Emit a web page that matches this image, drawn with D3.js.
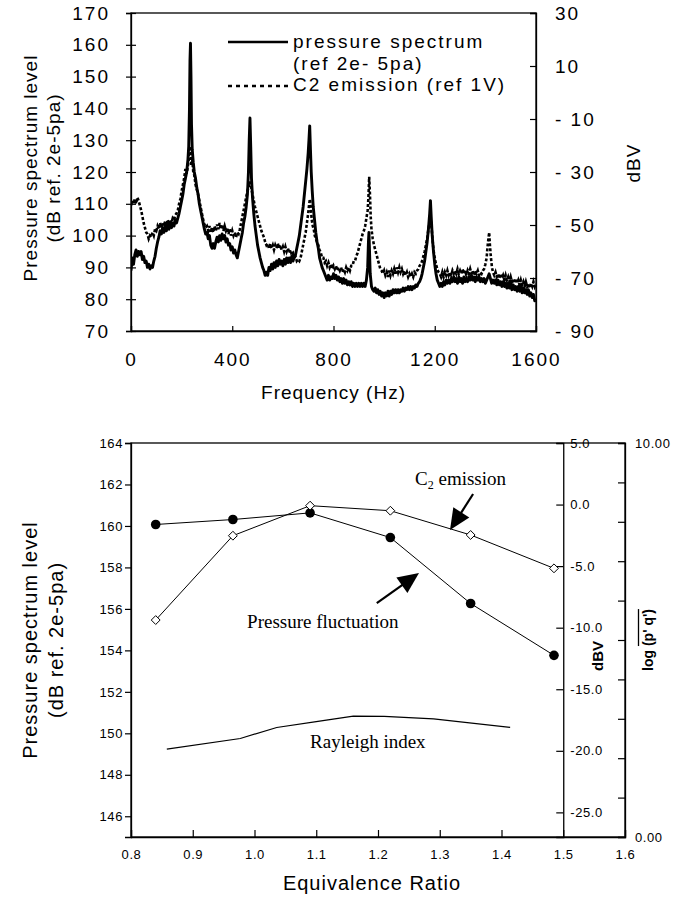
<!DOCTYPE html>
<html><head><meta charset="utf-8">
<script src="https://cdn.jsdelivr.net/npm/d3@7"></script>
<style>
html,body{margin:0;padding:0;background:#fff;}
svg{display:block;}
</style></head><body>
<svg id="c" width="686" height="898"></svg>
<script>
// ---------- Top chart data ----------
// pressure spectrum: [frequency Hz, dB ref 2e-5 Pa]
const pressureSpectrum = [[0,89],[5,93],[10,91],[15,94],[20,95.5],[25,93.5],[30,95],[35,94],[40,95],[45,92.5],[50,93.5],[55,91.5],[60,92],[65,90],[70,91],[75,89.5],[80,90.5],[85,90],[90,92],[95,93.5],[100,96],[105,98],[110,99.5],[115,101.5],[120,100.5],[125,102.5],[130,101],[135,103],[140,101.5],[145,103.5],[150,102],[155,104],[160,102.5],[165,104],[170,103],[175,105],[180,104],[185,105.5],[190,107],[195,109],[200,111],[205,113],[210,116],[215,118],[220,120],[225,124],[228,128],[231,140],[233,155],[235,160.5],[237,150],[239,135],[242,127],[246,123],[250,120],[255,118],[260,115],[265,113],[270,110],[275,108],[280,106],[285,104],[290,102],[295,100.5],[300,101],[305,99],[310,100],[315,97],[320,96],[325,97.5],[330,96],[335,98],[340,99.5],[345,98],[350,100],[355,98.5],[360,100.5],[365,99],[370,100],[375,98],[380,99],[385,97],[390,97.5],[395,95.5],[400,96.5],[405,94.5],[410,95.5],[415,94],[420,93],[425,95],[430,97],[435,99],[440,101],[445,104],[450,106],[455,109],[460,113],[464,120],[467,130],[470,137],[473,128],[476,118],[480,112],[485,107],[490,103],[495,100],[500,97],[505,95],[510,93],[515,91.5],[520,90],[525,89],[530,87.5],[535,88.5],[540,87.5],[545,90],[550,89],[555,91],[560,89.5],[565,91.5],[570,90],[575,92],[580,90.5],[585,92.5],[590,91],[595,92],[600,90.5],[605,92.5],[610,91],[615,93],[620,91.5],[625,93],[630,91.5],[635,93.5],[640,92],[645,93.5],[650,94],[655,96],[660,98],[665,100],[670,103],[675,106],[680,109],[685,113],[690,117],[695,121],[700,126],[703,130],[706,134.5],[709,127],[712,120],[716,114],[720,109],[725,105],[730,101],[735,98],[740,96],[745,93],[750,91.5],[755,90],[760,89],[765,88],[770,87],[775,86],[780,87.5],[785,86],[790,87],[795,86.5],[800,88],[805,86.5],[810,87.5],[815,86],[820,87],[825,85.5],[830,86.5],[835,85],[840,86.5],[845,85],[850,86],[855,84.5],[860,85.5],[865,84.5],[870,85.5],[875,84],[880,85],[885,84],[890,85],[895,84],[900,85],[905,84],[910,85],[915,84],[920,85],[925,84],[930,86],[935,90],[938,98],[940,101],[942,96],[945,88],[950,84],[955,83],[960,82.5],[965,83.5],[970,82],[975,83],[980,81.5],[985,82.5],[990,81],[995,82],[1000,80.5],[1005,82],[1010,81],[1015,82.5],[1020,81],[1025,82.5],[1030,81.5],[1035,83],[1040,82],[1045,83],[1050,82],[1055,83],[1060,82],[1065,83],[1070,82.5],[1075,83.5],[1080,82.5],[1085,83.5],[1090,83],[1095,84],[1100,83],[1105,84],[1110,83],[1115,84],[1120,83.5],[1125,84.5],[1130,84],[1135,85],[1140,85.5],[1145,86.5],[1150,88],[1155,90],[1160,92],[1165,95],[1170,98],[1175,102],[1180,107],[1183,111],[1186,106],[1190,100],[1195,95],[1200,91],[1205,88],[1210,86],[1215,85],[1220,84],[1225,85],[1230,84],[1235,85.5],[1240,84.5],[1245,86],[1250,85],[1255,86],[1260,85],[1265,86.5],[1270,85.5],[1275,87],[1280,85.5],[1285,86.5],[1290,85],[1295,87],[1300,85.5],[1305,86.5],[1310,85],[1315,87],[1320,85.5],[1325,86.5],[1330,85.5],[1335,87],[1340,86],[1345,87.5],[1350,86],[1355,87],[1360,85.5],[1365,87],[1370,86],[1375,87],[1380,85.5],[1385,86.5],[1390,85.5],[1395,86.5],[1400,85],[1405,86],[1410,87],[1415,88],[1420,86.5],[1425,85],[1430,86],[1435,85],[1440,86],[1445,84.5],[1450,86],[1455,84.5],[1460,85.5],[1465,84],[1470,85.5],[1475,84],[1480,85],[1485,83.5],[1490,85],[1495,83.5],[1500,85],[1505,83],[1510,84.5],[1515,83],[1520,84],[1525,82.5],[1530,84],[1535,82.5],[1540,84],[1545,82],[1550,83.5],[1555,82],[1560,83],[1565,81.5],[1570,83],[1575,81],[1580,82],[1585,80.5],[1590,81.5],[1595,79.5],[1600,80]];
// C2 emission: [frequency Hz, dBV ref 1V]
const c2Emission = [[0,-42.6],[5,-40.8],[10,-42],[15,-40.2],[20,-42],[25,-39.6],[30,-40.8],[35,-42.6],[40,-44.4],[45,-46.8],[50,-49.2],[55,-51],[60,-52.8],[65,-53.4],[70,-55.2],[75,-54],[80,-54.6],[85,-52.8],[90,-54],[95,-51.6],[100,-52.2],[105,-50.4],[110,-51.6],[115,-49.2],[120,-51],[125,-49.2],[130,-50.4],[135,-48.6],[140,-50.4],[145,-48],[150,-49.8],[155,-48],[160,-49.2],[165,-47.4],[170,-48],[175,-46.2],[180,-45.6],[185,-44.4],[190,-42],[195,-40.2],[200,-37.2],[205,-34.8],[210,-32.4],[215,-28.8],[220,-30.6],[225,-27.6],[228,-25.2],[232,-20.4],[235,-22.8],[238,-27.6],[242,-25.2],[246,-30],[250,-31.2],[255,-34.8],[260,-36.6],[265,-38.4],[270,-40.8],[275,-43.2],[280,-45.6],[285,-48],[290,-49.8],[295,-51],[300,-50.4],[305,-52.2],[310,-50.4],[315,-52.8],[320,-51],[325,-52.8],[330,-50.4],[335,-52.2],[340,-49.8],[345,-51.6],[350,-49.2],[355,-51.6],[360,-49.8],[365,-52.2],[370,-50.4],[375,-52.2],[380,-51],[385,-53.4],[390,-51.6],[395,-54],[400,-52.2],[405,-54],[410,-52.8],[415,-54.6],[420,-52.8],[425,-53.4],[430,-51.6],[435,-49.2],[440,-46.8],[445,-44.4],[450,-42],[455,-39.6],[460,-37.2],[465,-35.4],[470,-33.6],[475,-36],[480,-38.4],[485,-40.8],[490,-43.2],[495,-45],[500,-46.8],[505,-48.6],[510,-50.4],[515,-52.2],[520,-53.4],[525,-54.6],[530,-56.4],[535,-57.6],[540,-57],[545,-58.8],[550,-57],[555,-58.8],[560,-57.6],[565,-59.4],[570,-57.6],[575,-58.8],[580,-57],[585,-58.8],[590,-57.6],[595,-59.4],[600,-58.2],[605,-60],[610,-58.2],[615,-60],[620,-58.8],[625,-60.6],[630,-59.4],[635,-61.2],[640,-60.6],[645,-62.4],[650,-61.8],[655,-63.6],[660,-63],[665,-63.6],[670,-62.4],[675,-60],[680,-57.6],[685,-55.2],[690,-52.8],[695,-49.2],[700,-45.6],[704,-42],[707,-40.2],[710,-43.2],[714,-48],[718,-50.4],[722,-51.6],[726,-54],[730,-55.2],[735,-56.4],[740,-57.6],[745,-59.4],[750,-60.6],[755,-62.4],[760,-62.4],[765,-64.2],[770,-63.6],[775,-65.4],[780,-64.2],[785,-66],[790,-64.8],[795,-66.6],[800,-65.4],[805,-66.6],[810,-65.4],[815,-67.2],[820,-66],[825,-67.2],[830,-66],[835,-67.8],[840,-66.6],[845,-67.8],[850,-66],[855,-67.2],[860,-66],[865,-67.2],[870,-65.4],[875,-65.4],[880,-63.6],[885,-63.6],[890,-61.8],[895,-60.6],[900,-58.8],[905,-57],[910,-55.2],[915,-53.4],[920,-52.2],[925,-50.4],[930,-47.4],[935,-44.4],[938,-39.6],[941,-31.8],[944,-38.4],[947,-46.8],[950,-51.6],[955,-55.2],[960,-57.6],[965,-59.4],[970,-61.2],[975,-63],[980,-64.8],[985,-66.6],[990,-67.2],[995,-68.4],[1000,-67.2],[1005,-69],[1010,-67.8],[1015,-69.6],[1020,-67.2],[1025,-69],[1030,-67.2],[1035,-68.4],[1040,-66.6],[1045,-68.4],[1050,-66],[1055,-67.8],[1060,-66],[1065,-67.8],[1070,-66.6],[1075,-68.4],[1080,-67.2],[1085,-69],[1090,-67.8],[1095,-69.6],[1100,-68.4],[1105,-69.6],[1110,-68.4],[1115,-69.6],[1120,-67.8],[1125,-68.4],[1130,-67.2],[1135,-66.6],[1140,-65.4],[1145,-64.8],[1150,-63.6],[1155,-61.8],[1160,-60],[1165,-57.6],[1170,-55.2],[1175,-51.6],[1180,-48.6],[1184,-48],[1188,-51.6],[1192,-56.4],[1196,-60],[1200,-62.4],[1205,-64.8],[1210,-66.6],[1215,-67.8],[1220,-68.4],[1225,-69.6],[1230,-67.8],[1235,-69.6],[1240,-67.8],[1245,-69],[1250,-67.2],[1255,-69],[1260,-67.8],[1265,-69],[1270,-67.2],[1275,-68.4],[1280,-67.2],[1285,-68.4],[1290,-66.6],[1295,-68.4],[1300,-67.2],[1305,-68.4],[1310,-66.6],[1315,-68.4],[1320,-67.2],[1325,-69],[1330,-67.2],[1335,-68.4],[1340,-66.6],[1345,-68.4],[1350,-67.2],[1355,-69],[1360,-67.2],[1365,-68.4],[1370,-67.2],[1375,-69],[1380,-67.8],[1385,-68.4],[1390,-67.2],[1395,-66.6],[1400,-64.8],[1405,-62.4],[1408,-58.8],[1412,-55.2],[1415,-52.8],[1418,-57.6],[1422,-62.4],[1426,-66],[1430,-67.8],[1435,-69],[1440,-67.8],[1445,-69.6],[1450,-68.4],[1455,-70.2],[1460,-68.4],[1465,-70.2],[1470,-69],[1475,-70.8],[1480,-69],[1485,-70.8],[1490,-69.6],[1495,-71.4],[1500,-69.6],[1505,-71.4],[1510,-70.2],[1515,-72],[1520,-70.2],[1525,-72],[1530,-70.8],[1535,-72.6],[1540,-70.8],[1545,-72.6],[1550,-71.4],[1555,-73.2],[1560,-71.4],[1565,-73.2],[1570,-72],[1575,-73.8],[1580,-72],[1585,-73.2],[1590,-71.4],[1595,-73.2],[1600,-72]];
const freqTicks = [0, 400, 800, 1200, 1600];
const dbTicks = [70, 80, 90, 100, 110, 120, 130, 140, 150, 160, 170];
const dbvTicks = [30, 10, -10, -30, -50, -70, -90];
const dbvTickLabels = ["30", "10", "- 10", "- 30", "- 50", "- 70", "- 90"];
const legendLabels = ["pressure spectrum", "(ref 2e- 5pa)", "C2 emission (ref 1V)"];

// ---------- Bottom chart data ----------
const eqRatio = [0.84, 0.965, 1.09, 1.22, 1.35, 1.485];
const pressureLevel = [160.07, 160.31, 160.63, 159.44, 156.26, 153.76];   // dB (left axis)
const c2Level = [-9.38, -2.53, -0.09, -0.5, -2.47, -5.18];                // dBV
const rayleighRatio = [0.858, 0.977, 1.036, 1.10, 1.16, 1.21, 1.29, 1.414];
const rayleighIndex = [2.23, 2.50, 2.78, 2.93, 3.07, 3.06, 3.00, 2.78];  // log(p'q')
const eqTicks = [0.8, 0.9, 1.0, 1.1, 1.2, 1.3, 1.4, 1.5, 1.6];
const levelTicks = [146, 148, 150, 152, 154, 156, 158, 160, 162, 164];
const dbv2Ticks = [5, 0, -5, -10, -15, -20, -25];
const logTicks = [0, 1, 2, 3, 4, 5, 6, 7, 8, 9, 10];

const SANS = '"Liberation Sans", Arial, sans-serif';
const SERIF = '"Liberation Serif", "Times New Roman", serif';
const svg = d3.select("#c");

function styleAxis(g, size, ls) {
  g.attr("font-family", SANS).attr("font-size", size);
  g.selectAll("text").attr("fill", "#000").style("letter-spacing", ls + "px");
  g.selectAll("line").attr("stroke", "#000").attr("stroke-width", 1.2);
  g.selectAll(".domain").attr("stroke", "#000").attr("stroke-width", 1.3);
}
function rotText(g, x, y, txt, size, opts = {}) {
  return g.append("text").attr("transform", `translate(${x},${y}) rotate(-90)`)
    .attr("text-anchor", "middle").attr("font-family", opts.family || SANS)
    .attr("font-size", size).attr("font-weight", opts.weight || "normal")
    .style("letter-spacing", (opts.ls || 0) + "px").attr("fill", "#000").text(txt);
}

// ================= TOP CHART =================
const T = {l: 131, r: 536, t: 13, b: 331};
const xF = d3.scaleLinear().domain([0, 1600]).range([T.l, T.r]);
const yDB = d3.scaleLinear().domain([70, 170]).range([T.b, T.t]);
const yDBV = d3.scaleLinear().domain([-90, 30]).range([T.b, T.t]);

const gTop = svg.append("g");
svg.append("clipPath").attr("id", "clipT").append("rect")
  .attr("x", T.l).attr("y", T.t).attr("width", T.r - T.l).attr("height", T.b - T.t);

const lineP = d3.line().x(d => xF(d[0])).y(d => yDB(d[1]));
const lineC = d3.line().x(d => xF(d[0])).y(d => yDBV(d[1]));
gTop.append("path").datum(pressureSpectrum).attr("d", lineP)
  .attr("fill", "none").attr("stroke", "#000").attr("stroke-width", 2.9)
  .attr("stroke-linejoin", "round").attr("clip-path", "url(#clipT)");
gTop.append("path").datum(c2Emission).attr("d", lineC)
  .attr("fill", "none").attr("stroke", "#000").attr("stroke-width", 2.6)
  .attr("stroke-dasharray", "3,2").attr("clip-path", "url(#clipT)");

gTop.append("rect").attr("x", T.l).attr("y", T.t).attr("width", T.r - T.l).attr("height", T.b - T.t)
  .attr("fill", "none").attr("stroke", "#000").attr("stroke-width", 1.3);

const gL = gTop.append("g").attr("transform", `translate(${T.l},0)`)
  .call(d3.axisLeft(yDB).tickValues(dbTicks).tickSize(5).tickPadding(16).tickFormat(d => String(d)));
styleAxis(gL, 19, 2);
const gLi = gTop.append("g").attr("transform", `translate(${T.l},0)`)
  .call(d3.axisLeft(yDB).tickValues(dbTicks).tickSize(-5).tickFormat(""));
styleAxis(gLi, 19, 0); gLi.select(".domain").remove();

const gB = gTop.append("g").attr("transform", `translate(0,${T.b})`)
  .call(d3.axisBottom(xF).tickValues(freqTicks).tickSize(-5).tickPadding(22).tickFormat(d => String(d)));
styleAxis(gB, 19, 2);

const gR = gTop.append("g").attr("transform", `translate(${T.r},0)`)
  .call(d3.axisRight(yDBV).tickValues(dbvTicks).tickSize(-6).tickPadding(19)
    .tickFormat((d, i) => dbvTickLabels[i]));
styleAxis(gR, 19, 2);

rotText(gTop, 37, 168, "Pressure spectrum level", 19, {ls: 1});
rotText(gTop, 60, 168, "(dB ref. 2e-5pa)", 19, {ls: 1});
rotText(gTop, 633, 163, "dBV", 19, {ls: 1}).attr("dy", "0.35em");
gTop.append("text").attr("x", (T.l + T.r) / 2).attr("y", 399).attr("text-anchor", "middle")
  .attr("font-family", SANS).attr("font-size", 19).style("letter-spacing", "1px")
  .attr("fill", "#000").text("Frequency (Hz)");

const lg = gTop.append("g");
lg.append("line").attr("x1", 228).attr("x2", 288).attr("y1", 42).attr("y2", 42)
  .attr("stroke", "#000").attr("stroke-width", 2.6);
lg.append("line").attr("x1", 228).attr("x2", 288).attr("y1", 86).attr("y2", 86)
  .attr("stroke", "#000").attr("stroke-width", 2.4).attr("stroke-dasharray", "4,4");
[[48, 0], [70, 1], [91, 2]].forEach(([y, i]) => {
  lg.append("text").attr("x", 293).attr("y", y).attr("font-family", SANS)
    .attr("font-size", 19).style("letter-spacing", "2px").attr("fill", "#000").text(legendLabels[i]);
});

// ================= BOTTOM CHART =================
const B = {l: 131, r: 625, t: 443, b: 837};
const xE = d3.scaleLinear().domain([0.8, 1.6]).range([B.l, B.r]);
const yLev = d3.scaleLinear().domain([145, 164]).range([B.b, B.t]);
const yV = d3.scaleLinear().domain([-27, 5]).range([B.b, B.t]);
const yLog = d3.scaleLinear().domain([0, 10]).range([B.b, B.t]);
const xDBVaxis = 1.5;

const gBot = svg.append("g");
gBot.append("rect").attr("x", B.l).attr("y", B.t).attr("width", B.r - B.l).attr("height", B.b - B.t)
  .attr("fill", "none").attr("stroke", "#000").attr("stroke-width", 1.3);

const bL = gBot.append("g").attr("transform", `translate(${B.l},0)`)
  .call(d3.axisLeft(yLev).tickValues(levelTicks).tickSize(6).tickPadding(2));
styleAxis(bL, 13, 0.6);
const bB = gBot.append("g").attr("transform", `translate(0,${B.b})`)
  .call(d3.axisBottom(xE).tickValues(eqTicks).tickSize(-7).tickPadding(12.5)
    .tickFormat(d => d.toFixed(1)));
styleAxis(bB, 13, 0.6);
const bV = gBot.append("g").attr("transform", `translate(${xE(xDBVaxis)},0)`)
  .call(d3.axisRight(yV).tickValues(dbv2Ticks).tickSize(-7).tickPadding(7)
    .tickFormat(d => d.toFixed(1)));
styleAxis(bV, 13, 0.6);
const bLog = gBot.append("g").attr("transform", `translate(${B.r},0)`)
  .call(d3.axisRight(yLog).tickValues(logTicks).tickSize(-7).tickPadding(10)
    .tickFormat(d => (d === 0 || d === 10) ? d.toFixed(2) : ""));
styleAxis(bLog, 13, 0.6);

const lineLev = d3.line().x((d, i) => xE(eqRatio[i])).y(d => yLev(d));
const lineV = d3.line().x((d, i) => xE(eqRatio[i])).y(d => yV(d));
const lineR = d3.line().x((d, i) => xE(rayleighRatio[i])).y(d => yLog(d));
gBot.append("path").datum(rayleighIndex).attr("d", lineR).attr("fill", "none")
  .attr("stroke", "#000").attr("stroke-width", 1.2);
gBot.append("path").datum(c2Level).attr("d", lineV).attr("fill", "none")
  .attr("stroke", "#000").attr("stroke-width", 1);
gBot.append("path").datum(pressureLevel).attr("d", lineLev).attr("fill", "none")
  .attr("stroke", "#000").attr("stroke-width", 1);
gBot.selectAll(".dot").data(pressureLevel).enter().append("circle")
  .attr("cx", (d, i) => xE(eqRatio[i])).attr("cy", d => yLev(d)).attr("r", 4.8).attr("fill", "#000");
const dia = d3.symbol().type(d3.symbolDiamond2).size(50);
gBot.selectAll(".dia").data(c2Level).enter().append("path")
  .attr("d", dia).attr("transform", (d, i) => `translate(${xE(eqRatio[i])},${yV(d)})`)
  .attr("fill", "#fff").attr("stroke", "#000").attr("stroke-width", 1);

function arrow(x0, y0, x1, y1) {
  const sx = xE(x0), sy = yLev(y0), tx = xE(x1), ty = yLev(y1);
  const dx = tx - sx, dy = ty - sy, L = Math.hypot(dx, dy), ux = dx / L, uy = dy / L;
  const hl = 21, hw = 9.5;
  const bx = tx - ux * hl, by = ty - uy * hl;
  gBot.append("line").attr("x1", sx).attr("y1", sy).attr("x2", bx + ux * 2).attr("y2", by + uy * 2)
    .attr("stroke", "#000").attr("stroke-width", 2.2);
  gBot.append("path").attr("d", `M${tx},${ty}L${bx - uy * hw},${by + ux * hw}L${bx + uy * hw},${by - ux * hw}Z`)
    .attr("fill", "#000");
}
arrow(1.354, 161.54, 1.3166, 159.8);
arrow(1.198, 156.28, 1.2664, 157.73);

const c2t = gBot.append("text").attr("x", xE(1.26)).attr("y", yLev(161.97))
  .attr("font-family", SERIF).attr("font-size", 19).attr("fill", "#000");
c2t.append("tspan").text("C");
c2t.append("tspan").attr("font-size", 12).attr("dy", 4).text("2");
c2t.append("tspan").attr("dy", -4).text(" emission");
gBot.append("text").attr("x", xE(0.988)).attr("y", yLev(155.08))
  .attr("font-family", SERIF).attr("font-size", 19).attr("fill", "#000").text("Pressure fluctuation");
gBot.append("text").attr("x", xE(1.09)).attr("y", yLev(149.29))
  .attr("font-family", SERIF).attr("font-size", 19).attr("fill", "#000").text("Rayleigh index");

rotText(gBot, 37, 640, "Pressure spectrum level", 20, {ls: 1});
rotText(gBot, 63, 640, "(dB ref. 2e-5pa)", 20, {ls: 1});
gBot.append("text").attr("x", (B.l + B.r) / 2 - 6).attr("y", 890).attr("text-anchor", "middle")
  .attr("font-family", SANS).attr("font-size", 20).style("letter-spacing", "1px")
  .attr("fill", "#000").text("Equivalence Ratio");
rotText(gBot, 598, 656, "dBV", 15, {weight: "bold"}).attr("dy", "0.35em");

const lgG = gBot.append("g").attr("transform", "translate(648,640) rotate(-90)");
const lt = lgG.append("text").attr("x", 0).attr("y", 5).attr("text-anchor", "middle")
  .attr("font-family", SANS).attr("font-size", 14).attr("font-weight", "bold").attr("fill", "#000")
  .text("log (p' q')");
const totalLen = lt.node().getComputedTextLength();
const preLen = lt.node().getSubStringLength(0, 4);
lgG.append("line").attr("x1", -totalLen / 2 + preLen).attr("x2", totalLen / 2)
  .attr("y1", -9.5).attr("y2", -9.5).attr("stroke", "#000").attr("stroke-width", 1.3);
</script>
</body></html>
